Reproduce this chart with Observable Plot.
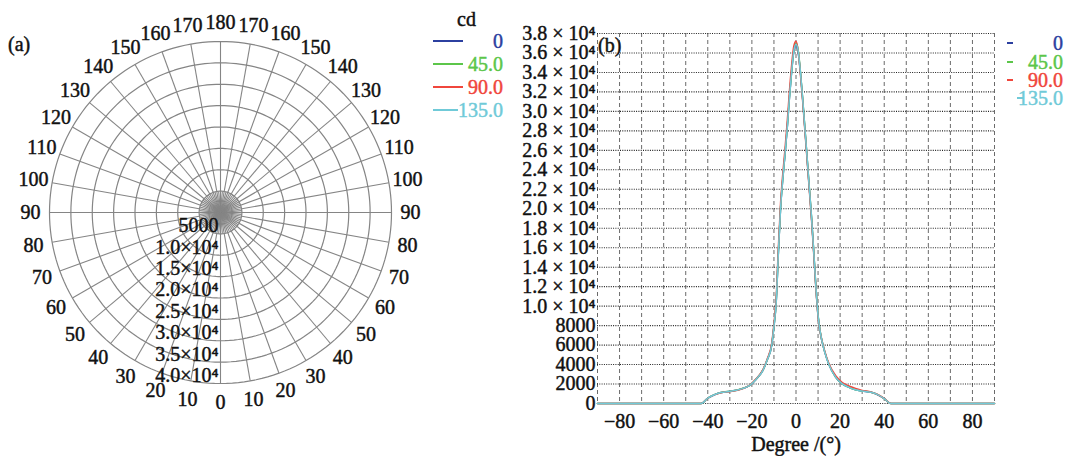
<!DOCTYPE html>
<html><head><meta charset="utf-8">
<script src="https://cdn.jsdelivr.net/npm/d3@7"></script>
<script src="https://cdn.jsdelivr.net/npm/@observablehq/plot@0.6"></script>
<style>
body{margin:0;background:#fff;}
#wrap{position:relative;width:1069px;height:456px;overflow:hidden;font-family:"Liberation Serif",serif;font-size:20px;color:#111;}
.abs{position:absolute;white-space:nowrap;line-height:1;-webkit-text-stroke:0.45px currentColor;}
.svgbox{position:absolute;top:0;}
.svgbox text{stroke:#111;stroke-width:0.45px;}
.ln{position:absolute;height:2px;}
</style></head><body><div id="wrap"></div>
<script>
// ---------- data ----------
const degrees = [-90,-45,-43,-40,-37,-34,-30,-27,-24,-21,-18,-15,-13,-11,-10,-9,-8,-7,-6,-5,-4,-3,-2,-1,0,1,2,3,4,5,6,7,8,9,10,11,13,15,18,21,24,27,30,34,37,40,43,45,90];
const cd0   = [0,0,0,550,900,1120,1250,1350,1550,1850,2500,3400,4500,6000,7900,10300,15400,20000,23000,25500,28200,31300,34000,36100,36800,36000,34000,31300,28300,25300,22200,19200,15700,12000,9000,7300,5300,3950,2700,2000,1650,1400,1280,1150,900,500,0,0,0];
const cd45  = [0,0,0,560,910,1130,1260,1360,1560,1870,2520,3420,4520,6050,7950,10400,15500,20100,23100,25600,28300,31400,34100,36300,37000,36300,34100,31400,28400,25400,22300,19300,15800,12100,9100,7350,5350,3980,2720,2020,1670,1420,1290,1160,910,510,0,0,0];
const cd90  = [0,0,0,540,890,1110,1240,1340,1540,1880,2560,3480,4600,6200,8200,10800,16000,20600,23600,26100,28900,32000,34700,36700,37200,36200,33800,31100,28100,25100,22000,19000,15500,11900,8900,7300,5400,4050,2850,2150,1800,1550,1350,1180,920,520,0,0,0];
const cd135 = [0,0,0,550,900,1120,1250,1350,1550,1860,2510,3410,4510,6020,7920,10350,15450,20050,23050,25550,28250,31350,34050,36200,36900,36200,34050,31350,28350,25350,22250,19250,15750,12050,9050,7320,5320,3960,2710,2010,1660,1410,1285,1155,905,505,0,0,0];
const seriesNames  = ["0","45.0","90.0","135.0"];
const seriesValues = [cd0, cd45, cd90, cd135];
const seriesColors = ["#2c40a0","#5cc64a","#f0463c","#70cad8"];

const yTicks = [0,2000,4000,6000,8000,10000,12000,14000,16000,18000,20000,22000,24000,26000,28000,30000,32000,34000,36000,38000];
const xTicks = [-80,-60,-40,-20,0,20,40,60,80];
const xGrid  = [-90,-80,-70,-60,-50,-40,-30,-20,-10,0,10,20,30,40,50,60,70,80,90];

const polarRadii = [5000,10000,15000,20000,25000,30000,35000,40000];
const polarRadiusLabels = ["5000","1.0×10⁴","1.5×10⁴","2.0×10⁴","2.5×10⁴","3.0×10⁴","3.5×10⁴","4.0×10⁴"];
const polarAngles = [0,10,20,30,40,50,60,70,80,90,100,110,120,130,140,150,160,170,180];

// ---------- panel (a): polar grid ----------
const wrap = document.getElementById("wrap");
const R = 40000, cx = 220, cy = 212, rp = 171;
const rad = a => a * Math.PI / 180;
const circlePts = [];
for (const r of polarRadii) for (let t = 0; t <= 360; t += 2) circlePts.push({r, x: r * Math.sin(rad(t)), y: r * Math.cos(rad(t))});
const spokes = [];
for (let a = 0; a < 360; a += 10) spokes.push({a, r: R});
for (let a = 5; a < 360; a += 10) spokes.push({a, r: polarRadii[0]});
const labelR = R * 190 / rp;
const angleLabels = [];
for (const a of polarAngles) {
  angleLabels.push({a, x: labelR * Math.sin(rad(a)), y: -labelR * Math.cos(rad(a))});
  if (a > 0 && a < 180) angleLabels.push({a, x: -labelR * Math.sin(rad(a)), y: -labelR * Math.cos(rad(a))});
}
const polar = Plot.plot({
  width: 520, height: 456, margin: 0,
  x: {domain: [-R, R], range: [cx - rp, cx + rp], axis: null},
  y: {domain: [-R, R], range: [cy + rp, cy - rp], axis: null},
  style: {fontFamily: "Liberation Serif", fontSize: "20px", background: "transparent", color: "#111"},
  marks: [
    Plot.line(circlePts, {x: "x", y: "y", z: "r", stroke: "#858585", strokeWidth: 1.2}),
    Plot.link(spokes, {x1: () => 0, y1: () => 0, x2: d => d.r * Math.sin(rad(d.a)), y2: d => d.r * Math.cos(rad(d.a)), stroke: "#858585", strokeWidth: 1.1}),
    Plot.text(angleLabels, {x: "x", y: "y", text: d => String(d.a), fill: "#111", lineAnchor: "middle"}),
    Plot.text(polarRadii, {x: () => 0, y: d => -d, text: (d, i) => polarRadiusLabels[i], textAnchor: "end", dx: -2, dy: -8, fill: "#111", lineAnchor: "middle"})
  ]
});
polar.classList.add("svgbox");
polar.style.left = "0px";
wrap.appendChild(polar);

// ---------- panel (b): line chart ----------
const fmtY = v => v >= 10000 ? (v / 1e4).toFixed(1) + " × 10⁴" : String(v);
const lineMarks = seriesValues.map((vals, k) =>
  Plot.line(degrees, {x: d => d, y: (d, i) => vals[i], stroke: seriesColors[k], strokeWidth: 1.5, curve: "monotone-x"}));
const chart = Plot.plot({
  width: 549, height: 456,
  marginLeft: 77, marginRight: 75, marginTop: 33, marginBottom: 53,
  x: {domain: [-90, 90]},
  y: {domain: [0, 38000]},
  style: {fontFamily: "Liberation Serif", fontSize: "20px", background: "transparent", color: "#111"},
  marks: [
    Plot.ruleX(xGrid, {stroke: "#6a6a6a", strokeDasharray: "4,3", strokeWidth: 1}),
    Plot.ruleY(yTicks, {stroke: "#222", strokeDasharray: "1,1.3", strokeWidth: 1.1}),
    Plot.axisY({ticks: yTicks, tickSize: 0, tickPadding: 2, tickFormat: fmtY, label: null}),
    Plot.axisX({ticks: xTicks, tickSize: 0, tickPadding: 10, label: "Degree /(°)", labelAnchor: "center", labelArrow: "none", labelOffset: 47}),
    ...lineMarks
  ]
});
chart.classList.add("svgbox");
chart.style.left = "520px";
wrap.appendChild(chart);

// ---------- text & legends ----------
function addText(txt, left, top, color, anchorRight) {
  const d = document.createElement("div");
  d.className = "abs";
  d.textContent = txt;
  d.style.color = color || "#111";
  d.style.top = top + "px";
  if (anchorRight) { d.style.right = (1069 - left) + "px"; } else { d.style.left = left + "px"; }
  d.style.transform = "translateY(-50%)";
  wrap.appendChild(d);
}
function addLine(x1, x2, y, color) {
  const d = document.createElement("div");
  d.className = "ln";
  d.style.left = x1 + "px"; d.style.width = (x2 - x1) + "px"; d.style.top = (y - 1) + "px"; d.style.background = color;
  wrap.appendChild(d);
}
addText("(a)", 8, 44);
addText("(b)", 598, 45);
addText("cd", 457, 19);
const legA = [41, 64, 87, 110];
const legB = [43, 62, 80, 98];
seriesNames.forEach((n, k) => {
  addLine(433, k === 3 ? 458 : 463, legA[k], seriesColors[k]);
  addText(n, 503, legA[k], seriesColors[k], true);
  const bx = k === 3 ? 1017 : 1007;
  addLine(bx, bx + 6, legB[k], seriesColors[k]);
  addText(n, 1063, legB[k], seriesColors[k], true);
});
</script></body></html>
